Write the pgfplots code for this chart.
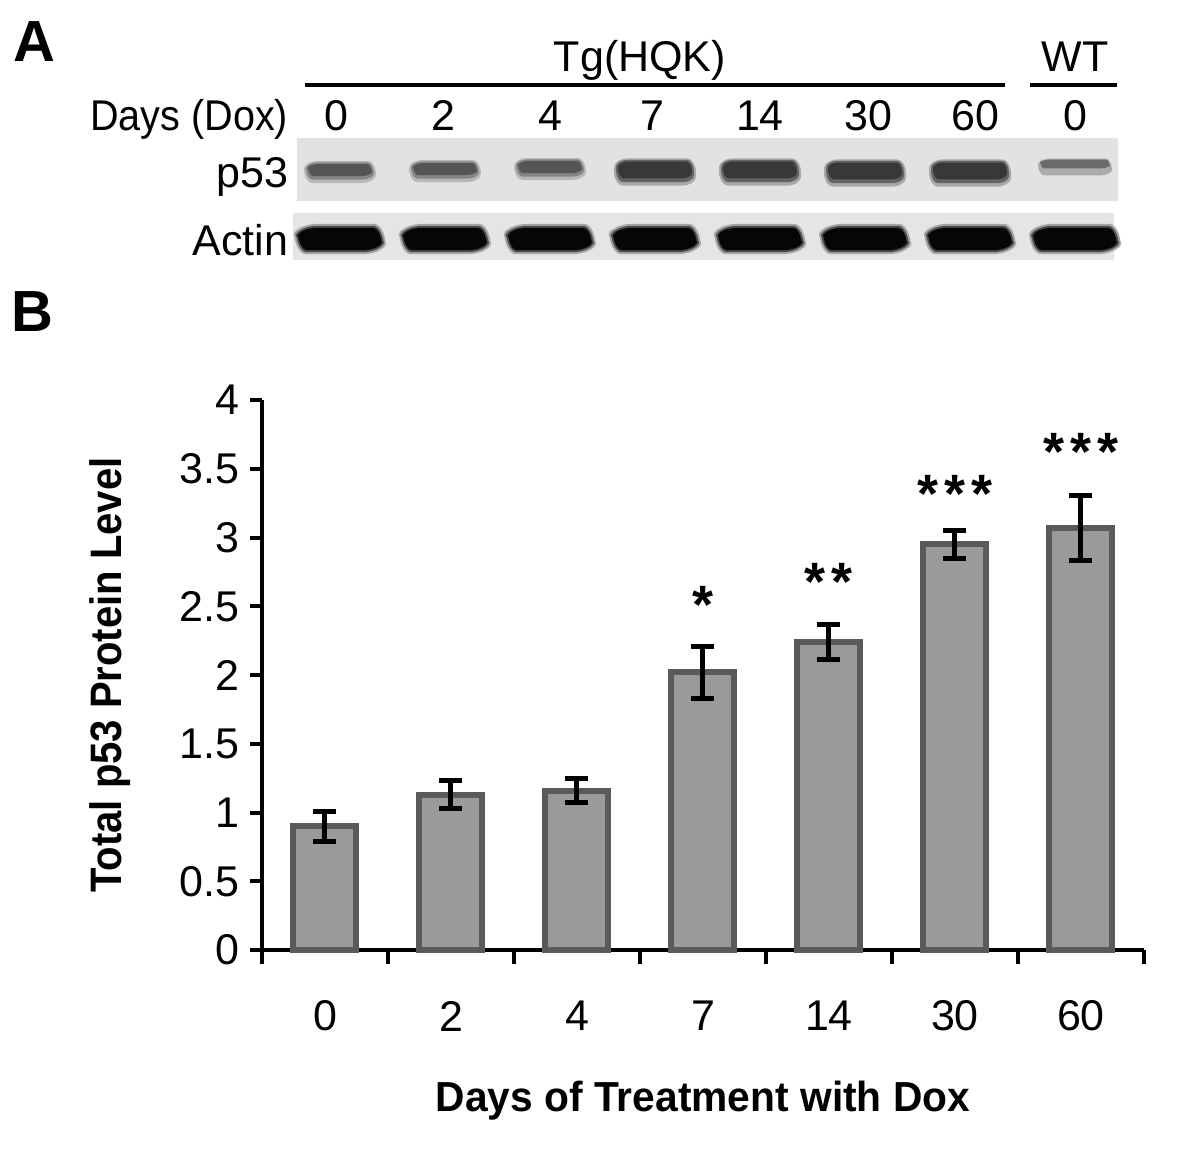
\documentclass[border=0pt]{standalone}
\usepackage{fontspec}
\setmainfont{Liberation Sans}
\usepackage{pgfplots}
\pgfplotsset{compat=1.18}
\definecolor{barfill}{HTML}{9A9A9A}
\definecolor{baredge}{HTML}{5A5A5A}
\definecolor{blotbg}{HTML}{E2E2E2}
\definecolor{blotbgb}{HTML}{E5E5E5}
\definecolor{pA}{HTML}{555555}
\definecolor{pAh}{HTML}{848484}
\definecolor{pAhh}{HTML}{B8B8B8}
\definecolor{pB}{HTML}{383838}
\definecolor{pBh}{HTML}{646464}
\definecolor{pBhh}{HTML}{A8A8A8}
\definecolor{pC}{HTML}{6A6A6A}
\definecolor{pCh}{HTML}{ABABAB}
\definecolor{aK}{HTML}{060606}
\definecolor{aKh}{HTML}{4A4A4A}
\definecolor{aKhh}{HTML}{A5A5A5}
\newcommand{\lbl}{\fontsize{21.5}{25}\selectfont}
% pill-shaped band marks: name, half width, half height, corner rx, corner ry
\newcommand{\defpill}[5]{\pgfdeclareplotmark{#1}{%
  \pgfsetcornersarced{\pgfpoint{#4}{#5}}%
  \pgfpathmoveto{\pgfpoint{-#2}{-#3}}%
  \pgfpathlineto{\pgfpoint{#2}{-#3}}%
  \pgfpathlineto{\pgfpoint{#2}{#3}}%
  \pgfpathlineto{\pgfpoint{-#2}{#3}}%
  \pgfpathclose
  \pgfusepath{fill}}}
\defpill{actinHH}{23pt}{7.6pt}{12pt}{6pt}
\defpill{actinH}{22pt}{6.6pt}{11pt}{5.5pt}
\defpill{actin}{21pt}{5.6pt}{10pt}{4.5pt}
\defpill{pAhh}{18pt}{5.5pt}{7pt}{4pt}
\defpill{pAh}{17pt}{4.3pt}{6pt}{3.2pt}
\defpill{pA}{16pt}{3pt}{5pt}{2.5pt}
\defpill{pBhh}{20.5pt}{6.8pt}{7pt}{4.5pt}
\defpill{pBh}{19.5pt}{5.6pt}{6pt}{3.6pt}
\defpill{pB}{18.5pt}{4.2pt}{5pt}{3pt}
\defpill{pCh}{18.5pt}{4.2pt}{6pt}{3pt}
\defpill{pC}{17.5pt}{2.2pt}{5pt}{2pt}
\begin{document}
\begin{tikzpicture}
\useasboundingbox (0,0) rectangle (600pt,-582pt);
% panel letters
\node[font=\fontsize{29}{32}\selectfont\bfseries, anchor=center] at (17pt,-21pt) {A};
\node[font=\fontsize{29}{32}\selectfont\bfseries, anchor=center] at (16pt,-156pt) {B};

% ---------------- Panel A: blot ----------------
\begin{axis}[
  at={(145pt,-131pt)}, anchor=south west, scale only axis,
  width=417.5pt, height=63.5pt,
  xmin=-0.476, xmax=7.476, ymin=-262, ymax=-135,
  hide axis, clip=false]
% strips
\addplot[fill=blotbg, draw=none] coordinates {(-0.41,-201) (7.41,-201) (7.41,-138) (-0.41,-138) (-0.41,-201)};
\addplot[fill=blotbgb, draw=none] coordinates {(-0.448,-260) (7.37,-260) (7.37,-213) (-0.448,-213) (-0.448,-260)};
% p53 bands, lanes 0-2
\addplot[only marks, mark=pAhh, color=pAhh] coordinates {(0,-172) (1,-171) (2,-169)};
\addplot[only marks, mark=pAh, color=pAh] coordinates {(0,-171) (1,-170) (2,-168)};
\addplot[only marks, mark=pA, color=pA] coordinates {(0,-170) (1,-169) (2,-167)};
% p53 bands, lanes 3-6
\addplot[only marks, mark=pBhh, color=pBhh] coordinates {(3,-172) (4,-172) (5,-173) (6,-173)};
\addplot[only marks, mark=pBh, color=pBh] coordinates {(3,-171) (4,-171) (5,-172) (6,-172)};
\addplot[only marks, mark=pB, color=pB] coordinates {(3,-170) (4,-170) (5,-171) (6,-171)};
% p53 band, WT lane
\addplot[only marks, mark=pCh, color=pCh] coordinates {(7,-167)};
\addplot[only marks, mark=pC, color=pC] coordinates {(7,-164)};
% actin bands
\addplot[only marks, mark=actinHH, color=aKhh] coordinates {(0,-239) (1,-239) (2,-239) (3,-239) (4,-239) (5,-239) (6,-239) (7,-239)};
\addplot[only marks, mark=actinH, color=aKh] coordinates {(0,-239) (1,-239) (2,-239) (3,-239) (4,-239) (5,-239) (6,-239) (7,-239)};
\addplot[only marks, mark=actin, color=aK] coordinates {(0,-239) (1,-239) (2,-239) (3,-239) (4,-239) (5,-239) (6,-239) (7,-239)};
% labels
\node[font=\lbl, anchor=base east, inner xsep=0pt] at (axis cs:-0.49,-130) {\scalebox{0.92}[1]{Days (Dox)}};
\node[font=\lbl, anchor=base east, inner xsep=0pt] at (axis cs:-0.49,-187) {p53};
\node[font=\lbl, anchor=base east, inner xsep=0pt] at (axis cs:-0.49,-255) {Actin};
\node[font=\lbl, anchor=base] at (axis cs:-0.03,-130) {0};
\node[font=\lbl, anchor=base] at (axis cs:0.99,-130) {2};
\node[font=\lbl, anchor=base] at (axis cs:2,-130) {4};
\node[font=\lbl, anchor=base] at (axis cs:2.98,-130) {7};
\node[font=\lbl, anchor=base] at (axis cs:4,-130) {14};
\node[font=\lbl, anchor=base] at (axis cs:5.03,-130) {30};
\node[font=\lbl, anchor=base] at (axis cs:6.05,-130) {60};
\node[font=\lbl, anchor=base] at (axis cs:7,-130) {0};
\node[font=\lbl, anchor=base] at (axis cs:2.857,-71) {Tg(HQK)};
\node[font=\lbl, anchor=base] at (axis cs:7,-71) {WT};
\draw[line width=1.6pt] (axis cs:-0.333,-85) -- (axis cs:6.333,-85);
\draw[line width=1.6pt] (axis cs:6.571,-85) -- (axis cs:7.4,-85);
\end{axis}

% ---------------- Panel B: bar chart ----------------
\begin{axis}[
  at={(131pt,-475pt)}, anchor=south west, scale only axis,
  width=441pt, height=275pt,
  xmin=-0.5, xmax=6.5, ymin=0, ymax=4,
  axis x line*=bottom, axis y line*=left,
  axis line style={line width=2pt, black},
  tick align=outside,
  ytick={0,0.5,...,4},
  xtick={0,...,6},
  xticklabels={0,2,4,7,14,30,60},
  minor xtick={-0.5,0.5,...,6.5},
  major tick length=6pt, minor tick length=7pt,
  major x tick style={draw=none},
  minor x tick style={line width=2pt, black},
  major y tick style={line width=2pt, black},
  /pgf/number format/assume math mode=true,
  tick label style={font=\lbl},
  xticklabel style={anchor=center, yshift=-27pt},
  yticklabel style={xshift=-2pt},
  ylabel={\scalebox{0.91}[1]{\bfseries Total p53 Protein Level}},
  ylabel style={at={(axis description cs:-0.172,0.5)}, anchor=center, font=\fontsize{22}{26}\selectfont},
  xlabel={\scalebox{0.97}[1]{\bfseries Days of Treatment with Dox}},
  xlabel style={at={(axis description cs:0.5,-0.273)}, anchor=center, font=\fontsize{21}{25}\selectfont},
  clip=false]
\addplot[ybar, bar width=0.5, fill=barfill, draw=baredge, line width=3pt,
  error bars/.cd, y dir=both, y explicit,
  error bar style={line width=2.5pt, black},
  error mark options={line width=2.5pt, black, mark size=5.75pt, rotate=90}]
  table[x=x, y=y, y error=e] {
x y e
0 0.90 0.11
1 1.13 0.10
2 1.16 0.085
3 2.02 0.19
4 2.24 0.125
5 2.95 0.10
6 3.07 0.235
};
\addplot[only marks, mark=*, mark size=0pt, mark options={draw=none, fill=none},
  nodes near coords, point meta=explicit symbolic,
  nodes near coords style={anchor=center, font=\fontsize{27}{30}\selectfont\bfseries}]
  coordinates {(3,2.508) [*] (4,2.677) [*\kern3pt*] (5,3.32) [*\kern3pt*\kern3pt*] (6,3.625) [*\kern3pt*\kern3pt*]};
\end{axis}
\end{tikzpicture}
\end{document}
